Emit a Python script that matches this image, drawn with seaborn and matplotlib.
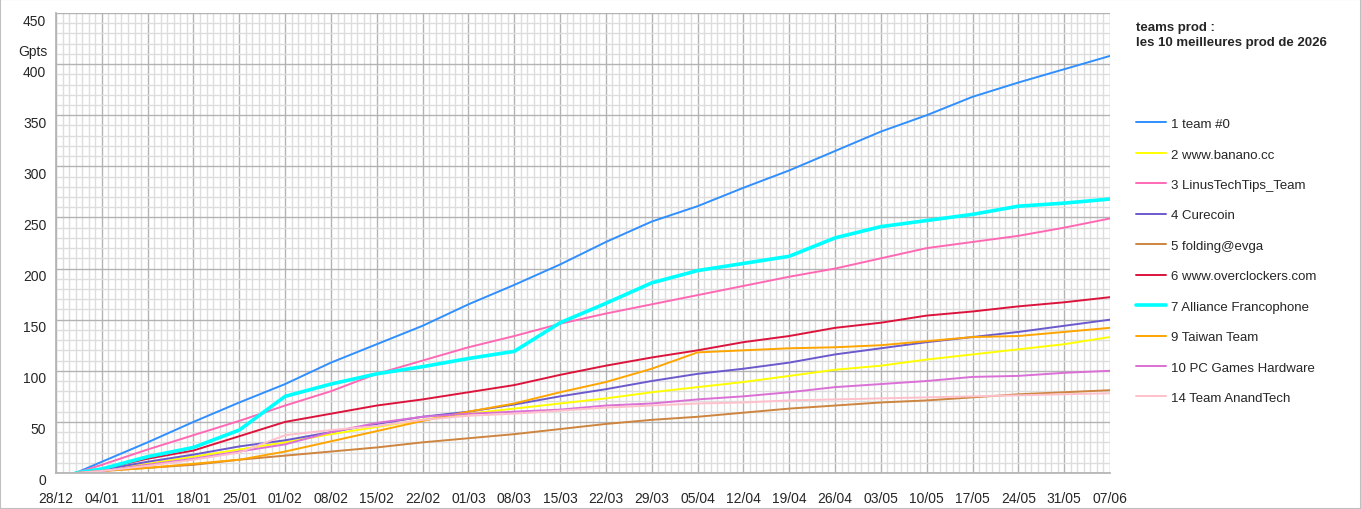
import pandas as pd
import seaborn as sns
import matplotlib.pyplot as plt
import matplotlib.dates as mdates
from matplotlib.ticker import MultipleLocator
from matplotlib.patches import Rectangle
from matplotlib.transforms import ScaledTranslation

# dates of the readings (first point 31/12, then every Sunday)
dates = pd.to_datetime(["2025-12-31"] + list(pd.date_range("2026-01-04", "2026-06-07", freq="7D").strftime("%Y-%m-%d")))

# cumulative production in Gpts
team0 = [0, 11, 30, 50, 69, 87, 108, 126, 144, 165, 184, 204, 226, 246, 261, 279, 296, 315, 334, 350, 368, 382, 395, 408]
banano = [0, 2, 9, 16, 23, 30, 38, 45, 52, 58, 63, 68, 73, 79, 84, 89, 95, 101, 105, 111, 116, 121, 126, 133]
linus = [0, 8, 23, 37, 51, 66, 80, 97, 110, 123, 134, 146, 156, 165, 174, 183, 192, 200, 210, 220, 226, 232, 240, 249]
curecoin = [0, 3, 11, 18, 26, 32, 40, 48, 55, 60, 67, 75, 82, 90, 97, 102, 108, 116, 122, 128, 133, 138, 144, 150]
evga = [0, 2, 5, 8, 13, 17, 21, 25, 30, 34, 38, 43, 48, 52, 55, 59, 63, 66, 69, 71, 74, 77, 79, 81]
overclockers = [0, 4, 14, 22, 36, 50, 58, 66, 72, 79, 86, 96, 105, 113, 120, 128, 134, 142, 147, 154, 158, 163, 167, 172]
alliance = [0, 4, 16, 25, 42, 75, 87, 97, 104, 112, 119, 147, 166, 186, 198, 205, 212, 230, 241, 247, 253, 261, 264, 268]
taiwan = [0, 2, 5, 9, 13, 21, 31, 41, 51, 60, 68, 79, 89, 102, 118, 120, 122, 123, 125, 129, 133, 134, 138, 142]
pcgh = [0, 2, 8, 14, 21, 28, 40, 49, 55, 58, 60, 62, 66, 68, 72, 75, 79, 84, 87, 90, 94, 95, 98, 100]
anandtech = [0, 2, 7, 13, 20, 37, 42, 46, 52, 56, 58, 61, 64, 66, 68, 69, 71, 72, 73, 74, 75, 76, 77, 78]

teams = ["1 team #0", "2 www.banano.cc", "3 LinusTechTips_Team", "4 Curecoin", "5 folding@evga",
         "6 www.overclockers.com", "7 Alliance Francophone", "9 Taiwan Team", "10 PC Games Hardware",
         "14 Team AnandTech"]
series = [team0, banano, linus, curecoin, evga, overclockers, alliance, taiwan, pcgh, anandtech]
colors = ["#2F8FFF", "#FFFF00", "#FF69B4", "#6A5ACD", "#CD853F", "#DC143C", "#00FFFF", "#FFA500", "#DA70D6", "#FFC0CB"]

sns.set_theme(style="white")
plt.rcParams["font.family"] = ["Liberation Sans", "DejaVu Sans"]

fig = plt.figure(figsize=(13.61, 5.10), dpi=100)
ax = fig.add_axes([56 / 1361, 1 - 474 / 510, (1110 - 56) / 1361, (474 - 14) / 510])

for name, vals, col in zip(teams, series, colors):
    df = pd.DataFrame({"date": dates, "Gpts": vals})
    lw = 2.6 if name.startswith("7 ") else 1.4
    sns.lineplot(data=df, x="date", y="Gpts", ax=ax, color=col, linewidth=lw, label=name)

ax.set_xlim(pd.Timestamp("2025-12-28"), pd.Timestamp("2026-06-07"))
ax.set_ylim(0, 450)
ax.xaxis.set_major_locator(mdates.WeekdayLocator(byweekday=mdates.SU))
ax.xaxis.set_minor_locator(mdates.DayLocator())
ax.xaxis.set_major_formatter(mdates.DateFormatter("%d/%m"))
ax.yaxis.set_major_locator(MultipleLocator(50))
ax.yaxis.set_minor_locator(MultipleLocator(10))

ax.grid(which="major", color="#b3b3b3", linewidth=1.0)
ax.grid(which="minor", color="#dddddd", linewidth=1.0)
ax.set_axisbelow(True)
for s in ["top", "right"]:
    ax.spines[s].set_visible(False)
for s in ["left", "bottom"]:
    ax.spines[s].set_color("#b3b3b3")
ax.tick_params(axis="both", which="major", length=4, color="#b3b3b3", labelsize=10)
ax.tick_params(axis="x", which="major", pad=9)
ax.tick_params(axis="y", which="major", pad=3)
ax.tick_params(axis="both", which="minor", length=0)
ax.set_xlabel("")
ax.set_ylabel("")

# y labels sit a little below their gridline in the original
shift = ScaledTranslation(0, -0.06, fig.dpi_scale_trans)
for lab in ax.get_yticklabels():
    lab.set_transform(lab.get_transform() + shift)

fig.text(33 / 1361, 1 - 52 / 510, "Gpts", fontsize=10, ha="center", va="center")

handles, labels = ax.get_legend_handles_labels()
ax.get_legend().remove()
fig.legend(handles, labels, loc="upper left", bbox_to_anchor=(1124 / 1361, 1 - 107 / 510),
           frameon=False, fontsize=9.5, handlelength=2.3, handletextpad=0.35, labelspacing=1.38)

fig.text(1136 / 1361, 1 - 22 / 510, "teams prod :\nles 10 meilleures prod de 2026", fontsize=9.5,
         fontweight="bold", ha="left", va="top", linespacing=1.35)

fig.patches.append(Rectangle((0, 0), 1, 1, transform=fig.transFigure, fill=False,
                             edgecolor="#c0c0c0", linewidth=1.5))

fig.savefig("out.png", dpi=100)
